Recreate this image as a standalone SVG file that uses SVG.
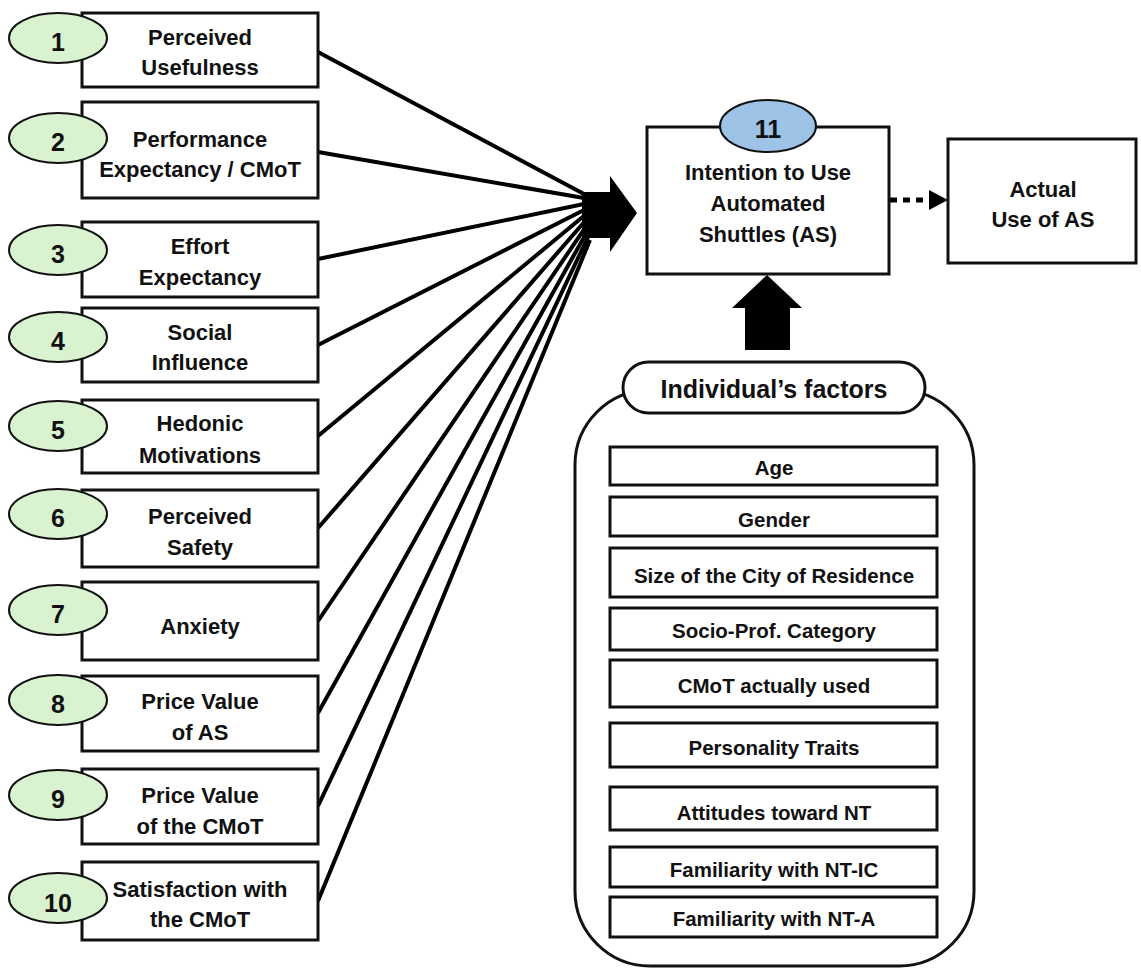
<svg xmlns="http://www.w3.org/2000/svg" width="1141" height="969" viewBox="0 0 1141 969">
<style>
text{font-family:"Liberation Sans",Arial,sans-serif;font-weight:bold;fill:#111;text-anchor:middle}
.box{fill:#fff;stroke:#111;stroke-width:3}
.num{fill:#d9f2d0;stroke:#111;stroke-width:2}
.lt{font-size:22px}
.nt{font-size:25px}
.ft{font-size:20.5px}
.ln{stroke:#000;stroke-width:4;fill:none}
</style>
<rect width="1141" height="969" fill="#fff"/>
<g id="connectors">
<line class="ln" x1="318" y1="52" x2="584" y2="194"/>
<line class="ln" x1="318" y1="152" x2="584" y2="198"/>
<line class="ln" x1="318" y1="259" x2="584" y2="204"/>
<line class="ln" x1="318" y1="345" x2="584" y2="210"/>
<line class="ln" x1="318" y1="436" x2="585" y2="215"/>
<line class="ln" x1="318" y1="528" x2="586" y2="220"/>
<line class="ln" x1="318" y1="621" x2="587" y2="225"/>
<line class="ln" x1="318" y1="713" x2="588" y2="230"/>
<line class="ln" x1="318" y1="806" x2="589" y2="235"/>
<line class="ln" x1="318" y1="901" x2="590" y2="240"/>
<polygon points="582,192 610,192 610,176 637,213 610,252 610,238 582,238" fill="#000"/>
<line x1="890" y1="200" x2="932" y2="200" stroke="#000" stroke-width="5" stroke-dasharray="7 6"/>
<polygon points="929,190 948,200 929,210" fill="#000"/>
<polygon points="767,275 802,308 790,308 790,350 745,350 745,308 732,308" fill="#000"/>
</g>
<g id="n1"><rect class="box" x="82" y="13" width="236" height="74"/><ellipse class="num" cx="58" cy="38" rx="49" ry="25"/><text class="nt" x="58" y="51">1</text><text class="lt" x="200" y="45">Perceived</text><text class="lt" x="200" y="75">Usefulness</text></g>
<g id="n2"><rect class="box" x="82" y="102" width="236" height="96"/><ellipse class="num" cx="58" cy="138" rx="49" ry="25"/><text class="nt" x="58" y="151">2</text><text class="lt" x="200" y="147">Performance</text><text class="lt" x="200" y="177">Expectancy / CMoT</text></g>
<g id="n3"><rect class="box" x="82" y="222" width="236" height="75"/><ellipse class="num" cx="58" cy="250" rx="49" ry="25"/><text class="nt" x="58" y="263">3</text><text class="lt" x="200" y="254">Effort</text><text class="lt" x="200" y="285">Expectancy</text></g>
<g id="n4"><rect class="box" x="82" y="308" width="236" height="74"/><ellipse class="num" cx="58" cy="337" rx="49" ry="25"/><text class="nt" x="58" y="350">4</text><text class="lt" x="200" y="340">Social</text><text class="lt" x="200" y="370">Influence</text></g>
<g id="n5"><rect class="box" x="82" y="400" width="236" height="73"/><ellipse class="num" cx="58" cy="426" rx="49" ry="25"/><text class="nt" x="58" y="439">5</text><text class="lt" x="200" y="431">Hedonic</text><text class="lt" x="200" y="463">Motivations</text></g>
<g id="n6"><rect class="box" x="82" y="490" width="236" height="77"/><ellipse class="num" cx="58" cy="514" rx="49" ry="25"/><text class="nt" x="58" y="527">6</text><text class="lt" x="200" y="524">Perceived</text><text class="lt" x="200" y="555">Safety</text></g>
<g id="n7"><rect class="box" x="82" y="582" width="236" height="78"/><ellipse class="num" cx="58" cy="610" rx="49" ry="25"/><text class="nt" x="58" y="623">7</text><text class="lt" x="200" y="634">Anxiety</text></g>
<g id="n8"><rect class="box" x="82" y="676" width="236" height="75"/><ellipse class="num" cx="58" cy="700" rx="49" ry="25"/><text class="nt" x="58" y="713">8</text><text class="lt" x="200" y="709">Price Value</text><text class="lt" x="200" y="740">of AS</text></g>
<g id="n9"><rect class="box" x="82" y="769" width="236" height="75"/><ellipse class="num" cx="58" cy="795" rx="49" ry="25"/><text class="nt" x="58" y="808">9</text><text class="lt" x="200" y="803">Price Value</text><text class="lt" x="200" y="834">of the CMoT</text></g>
<g id="n10"><rect class="box" x="82" y="862" width="236" height="78"/><ellipse class="num" cx="58" cy="898" rx="49" ry="25"/><text class="nt" x="58" y="912">10</text><text class="lt" x="200" y="897">Satisfaction with</text><text class="lt" x="200" y="927">the CMoT</text></g>
<g id="n11"><rect class="box" x="647" y="127" width="242" height="147"/><ellipse cx="768" cy="126" rx="48" ry="26" fill="#9dc3e6" stroke="#111" stroke-width="2"/><text class="nt" x="768" y="138">11</text><text class="lt" x="768" y="180">Intention to Use</text><text class="lt" x="768" y="211">Automated</text><text class="lt" x="768" y="242">Shuttles (AS)</text></g>
<g id="actual"><rect class="box" x="948" y="139" width="188" height="124"/><text class="lt" x="1043" y="197">Actual</text><text class="lt" x="1043" y="227">Use of AS</text></g>
<g id="factors">
<rect x="575" y="390" width="399" height="576" rx="75" ry="75" fill="#fff" stroke="#111" stroke-width="3"/>
<rect x="623" y="362" width="302" height="51" rx="25.5" ry="25.5" fill="#fff" stroke="#111" stroke-width="3"/>
<text x="774" y="398" font-size="25px">Individual’s factors</text>
<g id="f-age"><rect class="box" x="610" y="447" width="327" height="38"/><text class="ft" x="774" y="475">Age</text></g>
<g id="f-gender"><rect class="box" x="610" y="497" width="327" height="39"/><text class="ft" x="774" y="527">Gender</text></g>
<g id="f-size"><rect class="box" x="610" y="548" width="327" height="49"/><text class="ft" x="774" y="583">Size of the City of Residence</text></g>
<g id="f-socio"><rect class="box" x="610" y="608" width="327" height="42"/><text class="ft" x="774" y="638">Socio-Prof. Category</text></g>
<g id="f-cmot"><rect class="box" x="610" y="660" width="327" height="47"/><text class="ft" x="774" y="693">CMoT actually used</text></g>
<g id="f-pers"><rect class="box" x="610" y="723" width="327" height="44"/><text class="ft" x="774" y="755">Personality Traits</text></g>
<g id="f-att"><rect class="box" x="610" y="787" width="327" height="43"/><text class="ft" x="774" y="820">Attitudes toward NT</text></g>
<g id="f-ic"><rect class="box" x="610" y="847" width="327" height="40"/><text class="ft" x="774" y="877">Familiarity with NT-IC</text></g>
<g id="f-a"><rect class="box" x="610" y="897" width="327" height="40"/><text class="ft" x="774" y="926">Familiarity with NT-A</text></g>
</g>
</svg>
